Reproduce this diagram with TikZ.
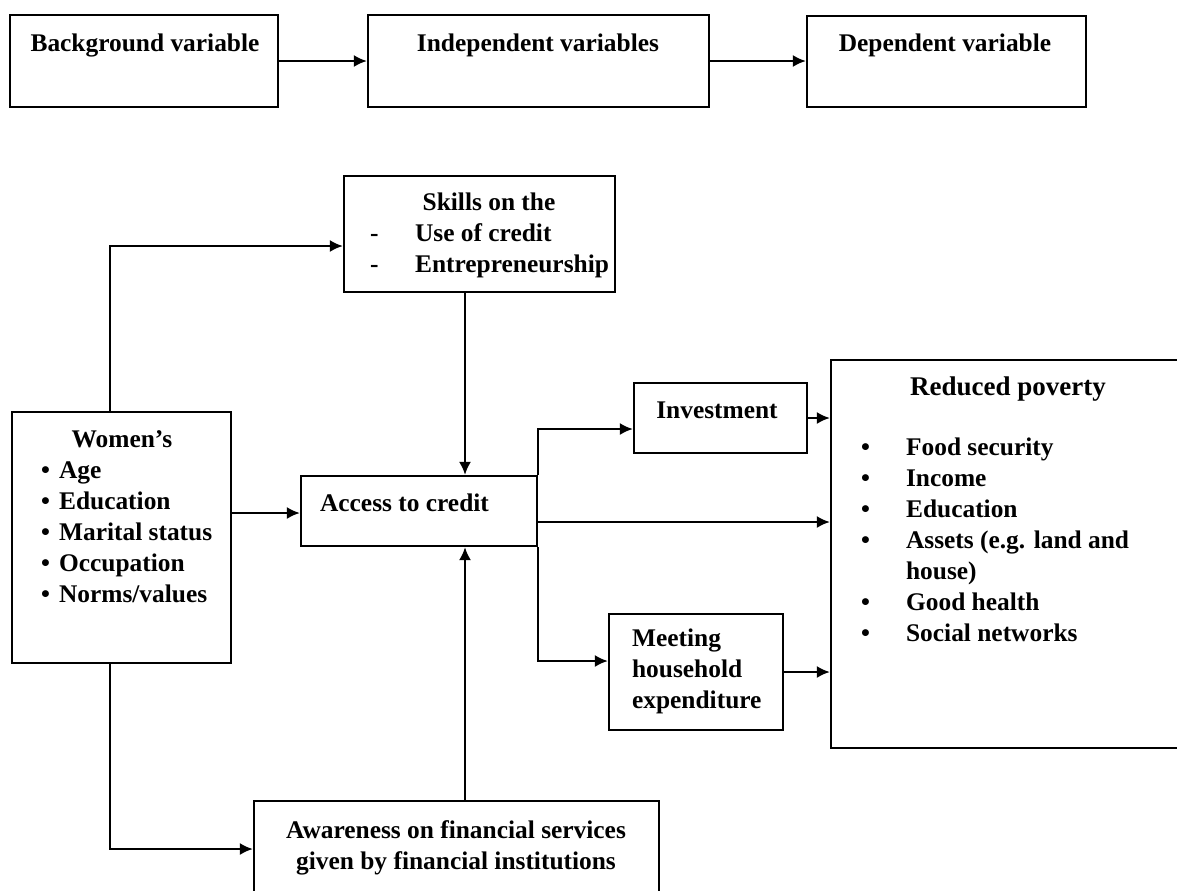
\documentclass[tikz,border=0pt]{standalone}
\usepackage{fontspec}
\setmainfont{Liberation Serif}
\usetikzlibrary{arrows.meta,fit}

\tikzset{
  box/.style={draw, line width=1.1pt, inner sep=0pt},
  txt/.style={inner sep=0pt, font=\fontsize{12.7}{15.5}\selectfont\bfseries},
}

\begin{document}
\begin{tikzpicture}[x=0.5pt, y=-0.5pt, >={Latex[length=6.5pt,width=6pt]}, line width=1.1pt]
\clip (0,0) rectangle (1177,890);
% top row
\node[box, fit={(10,15) (278,107)}] (bg) {};
\node[box, fit={(368,15) (709,107)}] (ind) {};
\node[box, fit={(807,16) (1086,107)}] (dep) {};
\node[txt, anchor=base] (bgtxt) at (145,51) {Background variable};
\node[txt, anchor=base] (indtxt) at (538,51) {Independent variables};
\node[txt, anchor=base] (deptxt) at (945,51) {Dependent variable};
\draw[->] (bg.east) -- (ind.west);
\draw[->] (ind.east) -- (ind.east -| dep.west);

% boxes of the model
\node[box, fit={(344,176) (615,292)}] (skills) {};
\node[box, fit={(12,412) (231,663)}] (women) {};
\node[box, fit={(301,476) (537,546)}] (access) {};
\node[box, fit={(634,383) (807,453)}] (invest) {};
\node[box, fit={(609,614) (783,730)}] (meet) {};
\node[box, fit={(831,360) (1190,748)}] (reduced) {};
\node[box, fit={(254,801) (659,896)}] (aware) {};

% texts
\node[txt, anchor=base] (skillstxt) at (489,210) {Skills on the};
\node[txt, anchor=base west] (skillslist) at (369,241)
  {\begin{tabular}[t]{@{}p{22.5pt}@{}l@{}}
   - & Use of credit\\
   - & Entrepreneurship
   \end{tabular}};
\node[txt, anchor=base] (womentxt) at (122,447) {Women’s};
\node[txt, anchor=base west] (womenlist) at (40,478)
  {\begin{tabular}[t]{@{}p{9pt}@{}l@{}}
   \textbullet & Age\\
   \textbullet & Education\\
   \textbullet & Marital status\\
   \textbullet & Occupation\\
   \textbullet & Norms/values
   \end{tabular}};
\node[txt, anchor=base west] (accesstxt) at (319,511) {Access to credit};
\node[txt, anchor=base] (investtxt) at (717,418) {Investment};
\node[txt, anchor=base west, align=left] (meettxt) at (631,708)
  {Meeting\\household\\expenditure};
\node[txt, anchor=base, font=\fontsize{13.5}{15.5}\selectfont\bfseries] (reducedtxt) at (1008,395) {Reduced poverty};
\node[txt, anchor=base west] (reducedlist) at (860,455)
  {\begin{tabular}[t]{@{}p{22.5pt}@{}l@{}}
   \textbullet & Food security\\
   \textbullet & Income\\
   \textbullet & Education\\
   \textbullet & Assets (e.g. land and\\
               & house)\\
   \textbullet & Good health\\
   \textbullet & Social networks
   \end{tabular}};
\node[txt, anchor=base, align=center] (awaretxt) at (456,869)
  {Awareness on financial services\\given by financial institutions};

% helper points for the bends
\coordinate (wup) at (110,246);
\coordinate (wdown) at (110,849);
\coordinate (mid) at (465,520);
\coordinate (wacc) at (260,513);
\coordinate (acred) at (700,522);
\coordinate (inv) at (580,429);
\coordinate (mt) at (580,661);

% connectors
\draw[->] (women.north -| wup) |- (skills.west |- wup);
\draw[->] (women.south -| wdown) |- (aware.west |- wdown);
\draw[->] (women.east |- wacc) -- (access.west |- wacc);
\draw[->] (skills.south -| mid) -- (access.north -| mid);
\draw[->] (aware.north -| mid) -- (access.south -| mid);
\draw[->] (access.north east) |- (invest.west |- inv);
\draw[->] (access.south east) |- (meet.west |- mt);
\draw[->] (access.east |- acred) -- (reduced.west |- acred);
\draw[->] (invest.east) -- (invest.east -| reduced.west);
\draw[->] (meet.east) -- (meet.east -| reduced.west);
\end{tikzpicture}
\end{document}
